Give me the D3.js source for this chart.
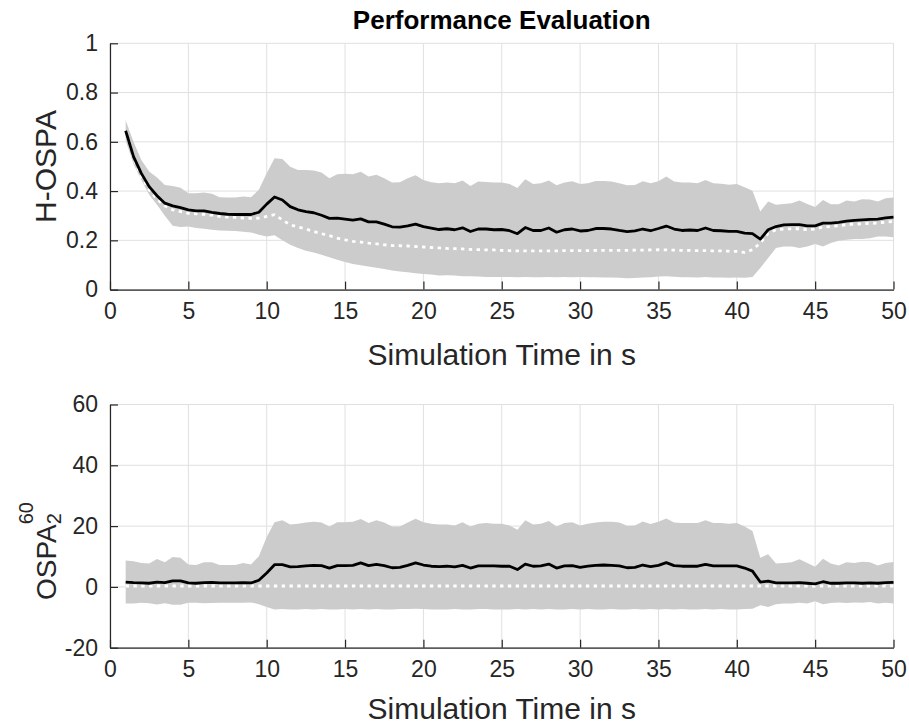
<!DOCTYPE html>
<html><head><meta charset="utf-8">
<script src="https://cdn.jsdelivr.net/npm/d3@7"></script>
<style>body{margin:0;background:#fff} text{font-family:"Liberation Sans",Arial,Helvetica,sans-serif}</style>
</head><body><svg id="chart" width="909" height="724"></svg>
<script>
// ---- data ----
const time = [1,1.5,2,2.5,3,3.5,4,4.5,5,5.5,6,6.5,7,7.5,8,8.5,9,9.5,10,10.5,11,11.5,12,12.5,13,13.5,14,14.5,15,15.5,16,16.5,17,17.5,18,18.5,19,19.5,20,20.5,21,21.5,22,22.5,23,23.5,24,24.5,25,
25.5,26,26.5,27,27.5,28,28.5,29,29.5,30,30.5,31,31.5,32,32.5,33,33.5,34,34.5,35,35.5,36,36.5,37,37.5,38,38.5,39,39.5,40,40.5,41,41.5,42,42.5,43,43.5,44,44.5,45,45.5,46,46.5,47,47.5,48,48.5,49,49.5,50];

const hospaMean = [0.645,0.54,0.472,0.418,0.381,0.351,0.34,0.333,0.324,0.32,0.32,0.314,0.309,0.306,0.305,0.305,0.305,0.314,0.347,0.376,0.364,0.337,0.324,0.317,0.312,0.302,0.289,0.29,0.286,0.282,0.287,0.275,0.275,0.266,0.255,0.254,0.259,0.266,0.256,0.25,0.244,0.247,0.243,0.251,0.236,0.246,0.246,0.243,0.244,
0.239,0.227,0.252,0.24,0.24,0.25,0.233,0.243,0.246,0.238,0.24,0.248,0.248,0.246,0.24,0.235,0.238,0.246,0.239,0.248,0.258,0.246,0.24,0.242,0.24,0.25,0.24,0.239,0.236,0.236,0.229,0.227,0.205,0.243,0.256,0.263,0.264,0.264,0.259,0.259,0.27,0.27,0.273,0.278,0.281,0.283,0.285,0.286,0.291,0.294];

const hospaMedian = [0.645,0.533,0.459,0.405,0.367,0.34,0.324,0.317,0.31,0.308,0.305,0.302,0.297,0.294,0.293,0.29,0.289,0.29,0.297,0.304,0.283,0.263,0.254,0.246,0.236,0.227,0.219,0.209,0.202,0.196,0.193,0.189,0.186,0.182,0.179,0.178,0.177,0.175,0.173,0.171,0.169,0.167,0.166,0.165,0.163,0.162,0.161,0.161,0.159,
0.158,0.157,0.157,0.157,0.157,0.157,0.157,0.158,0.158,0.158,0.158,0.159,0.159,0.159,0.159,0.159,0.16,0.16,0.161,0.162,0.161,0.16,0.159,0.159,0.158,0.158,0.157,0.157,0.156,0.155,0.151,0.162,0.189,0.229,0.243,0.246,0.247,0.247,0.243,0.246,0.254,0.256,0.259,0.263,0.266,0.267,0.269,0.27,0.274,0.277];

const hospaUpper = [0.688,0.60,0.526,0.48,0.455,0.425,0.421,0.414,0.391,0.391,0.394,0.389,0.375,0.374,0.374,0.378,0.375,0.405,0.472,0.533,0.53,0.499,0.486,0.486,0.484,0.475,0.452,0.468,0.47,0.468,0.478,0.459,0.466,0.452,0.435,0.436,0.452,0.464,0.445,0.436,0.432,0.435,0.432,0.443,0.421,0.439,0.437,0.435,0.435,
0.429,0.412,0.448,0.429,0.432,0.443,0.424,0.435,0.44,0.429,0.432,0.441,0.441,0.439,0.432,0.424,0.425,0.44,0.432,0.44,0.459,0.439,0.435,0.435,0.432,0.445,0.432,0.43,0.426,0.429,0.416,0.401,0.317,0.358,0.344,0.348,0.351,0.362,0.348,0.335,0.364,0.347,0.347,0.362,0.358,0.367,0.366,0.358,0.371,0.374];

const hospaLower = [0.605,0.51,0.445,0.385,0.344,0.30,0.259,0.254,0.256,0.25,0.247,0.243,0.24,0.239,0.238,0.235,0.232,0.223,0.216,0.221,0.2,0.182,0.169,0.158,0.151,0.142,0.131,0.121,0.112,0.104,0.099,0.094,0.089,0.084,0.078,0.073,0.07,0.066,0.063,0.061,0.057,0.058,0.057,0.054,0.054,0.053,0.051,0.051,0.051,
0.051,0.05,0.051,0.05,0.05,0.051,0.05,0.051,0.05,0.051,0.05,0.05,0.049,0.049,0.048,0.046,0.047,0.049,0.05,0.053,0.054,0.052,0.05,0.05,0.049,0.051,0.049,0.049,0.048,0.049,0.048,0.051,0.088,0.128,0.169,0.175,0.175,0.169,0.175,0.185,0.175,0.189,0.198,0.202,0.205,0.205,0.208,0.216,0.216,0.213];

const ospaMean = [1.6,1.4,1.3,1.2,1.6,1.4,2.0,2.0,1.3,1.2,1.4,1.5,1.3,1.3,1.3,1.4,1.3,2.2,4.6,7.3,7.3,6.6,6.7,6.9,7.1,7.0,6.2,7.0,7.0,7.1,7.9,7.0,7.4,7.0,6.3,6.4,7.1,7.9,7.2,6.8,6.7,6.8,6.6,7.1,6.2,6.9,6.9,6.9,6.8,
6.8,5.7,7.5,6.8,6.9,7.5,6.2,6.9,7.0,6.4,6.8,7.1,7.2,7.1,6.9,6.3,6.4,7.2,6.7,7.1,8.0,7.0,6.8,6.8,6.8,7.4,6.9,6.9,6.9,6.9,6.2,5.2,1.6,1.9,1.3,1.3,1.3,1.4,1.2,1.0,1.7,1.2,1.2,1.3,1.3,1.2,1.3,1.2,1.4,1.5];

const ospaMedian = [0.3,0.3,0.3,0.3,0.3,0.3,0.3,0.3,0.3,0.3,0.3,0.3,0.3,0.3,0.3,0.3,0.3,0.3,0.3,0.3,0.3,0.3,0.3,0.3,0.3,0.3,0.3,0.3,0.3,0.3,0.3,0.3,0.3,0.3,0.3,0.3,0.3,0.3,0.3,0.3,0.3,0.3,0.3,0.3,0.3,0.3,0.3,0.3,0.3,
0.3,0.3,0.3,0.3,0.3,0.3,0.3,0.3,0.3,0.3,0.3,0.3,0.3,0.3,0.3,0.3,0.3,0.3,0.3,0.3,0.3,0.3,0.3,0.3,0.3,0.3,0.3,0.3,0.3,0.3,0.3,0.3,0.3,0.3,0.3,0.3,0.3,0.3,0.3,0.3,0.3,0.3,0.3,0.3,0.3,0.3,0.3,0.3,0.3,0.3];

const ospaUpper = [8.7,8.4,7.9,7.7,9.2,8.1,9.8,9.6,7.4,7.2,8.1,8.1,7.2,7.2,7.2,7.9,7.4,10.1,16.4,21.3,21.9,20.5,20.8,21.2,21.4,21.2,19.9,21.3,21.3,21.4,22.3,21.0,21.9,21.2,19.9,19.9,21.2,22.4,21.3,20.8,20.5,20.5,20.2,21.3,19.9,20.8,21.0,20.8,20.8,
20.2,18.8,21.9,20.5,20.8,21.7,19.9,21.0,21.3,20.2,20.8,21.2,21.4,21.4,21.2,20.1,20.2,21.5,20.7,21.4,22.5,21.2,21.0,21.0,21.0,21.9,21.0,21.0,20.8,21.0,19.9,18.4,9.6,10.7,7.7,7.9,8.1,9.1,7.9,6.6,9.3,7.7,7.0,8.1,7.9,8.3,8.1,7.0,7.9,8.2];

const ospaLower = [-5.5,-5.5,-5.2,-5.4,-5.8,-5.4,-5.9,-5.9,-5.2,-5.2,-5.4,-5.3,-5.2,-5.2,-5.2,-5.2,-5.1,-5.7,-6.6,-7.4,-7.3,-7.4,-7.4,-7.3,-7.4,-7.3,-7.4,-7.4,-7.3,-7.4,-7.3,-7.4,-7.3,-7.4,-7.4,-7.3,-7.3,-7.2,-7.3,-7.4,-7.4,-7.4,-7.3,-7.4,-7.4,-7.3,-7.3,-7.4,-7.4,
-7.4,-7.3,-7.4,-7.3,-7.4,-7.3,-7.4,-7.4,-7.3,-7.4,-7.3,-7.4,-7.4,-7.3,-7.4,-7.4,-7.3,-7.4,-7.3,-7.4,-7.3,-7.4,-7.3,-7.4,-7.4,-7.3,-7.4,-7.3,-7.4,-7.4,-7.3,-7.2,-6.0,-6.6,-5.7,-5.5,-5.5,-5.2,-5.5,-4.7,-5.7,-5.3,-5.1,-5.3,-5.1,-5.2,-5.0,-5.5,-5.2,-5.5];

const xTicks = [0,5,10,15,20,25,30,35,40,45,50];
const xTickLabels = ["0","5","10","15","20","25","30","35","40","45","50"];
const hospaTicks = [0,0.2,0.4,0.6,0.8,1];
const hospaTickLabels = ["0","0.2","0.4","0.6","0.8","1"];
const ospaTicks = [-20,0,20,40,60];
const ospaTickLabels = ["-20","0","20","40","60"];

const titleText = "Performance Evaluation";
const xLabelText = "Simulation Time in s";

// ---- drawing ----
const svg = d3.select("#chart");
svg.append("rect").attr("width",909).attr("height",724).attr("fill","#fff");
const AX = "#262626", GRID = "#e0e0e0", BAND = "#cccccc";
const TICK_FS = 23, LABEL_FS = 30, TITLE_FS = 26;

function panel(cfg){
  const x = d3.scaleLinear().domain([0,50]).range([110,893.5]);
  const y = d3.scaleLinear().domain(cfg.domain).range([cfg.bottom, cfg.top]);
  const g = svg.append("g");
  g.append("g").selectAll("line").data(xTicks).join("line")
    .attr("x1",d=>x(d)).attr("x2",d=>x(d)).attr("y1",cfg.top).attr("y2",cfg.bottom)
    .attr("stroke",GRID).attr("stroke-width",1);
  g.append("g").selectAll("line").data(cfg.ticks).join("line")
    .attr("x1",x(0)).attr("x2",x(50)).attr("y1",d=>y(d)).attr("y2",d=>y(d))
    .attr("stroke",GRID).attr("stroke-width",1);
  const rows = time.map((t,i)=>({t, lo:cfg.lower[i], hi:cfg.upper[i], m:cfg.mean[i], md:cfg.median[i]}));
  g.append("path").datum(rows)
    .attr("d", d3.area().x(d=>x(d.t)).y0(d=>y(d.lo)).y1(d=>y(d.hi)))
    .attr("fill",BAND).attr("stroke","none");
  g.append("path").datum(rows)
    .attr("d", d3.line().x(d=>x(d.t)).y(d=>y(d.md)))
    .attr("fill","none").attr("stroke","#fff").attr("stroke-width",2.8)
    .attr("stroke-dasharray","3.4,4.4");
  g.append("path").datum(rows)
    .attr("d", d3.line().x(d=>x(d.t)).y(d=>y(d.m)))
    .attr("fill","none").attr("stroke","#000").attr("stroke-width",2.8)
    .attr("stroke-linejoin","round");
  const xa = d3.axisBottom(x).tickValues(xTicks).tickFormat((d,i)=>xTickLabels[i])
    .tickSize(-8).tickSizeOuter(0).tickPadding(13);
  const ya = d3.axisLeft(y).tickValues(cfg.ticks).tickFormat((d,i)=>cfg.tickLabels[i])
    .tickSize(-8).tickSizeOuter(0).tickPadding(12);
  const gx = g.append("g").attr("transform",`translate(0,${cfg.bottom})`).call(xa);
  const gy = g.append("g").attr("transform",`translate(${x(0)},0)`).call(ya);
  [gx,gy].forEach(a=>{
    a.select(".domain").attr("stroke",AX).attr("stroke-width",1.2);
    a.selectAll(".tick line").attr("stroke",AX).attr("stroke-width",1.2);
    a.selectAll(".tick text").attr("fill",AX).attr("font-size",TICK_FS)
      .attr("font-family",'"Liberation Sans",Arial,sans-serif');
  });
  g.append("text").attr("x",(x(0)+x(50))/2).attr("y",cfg.labelY)
    .attr("text-anchor","middle").attr("font-size",LABEL_FS).attr("fill",AX).text(xLabelText);
  return {x,y,g};
}

panel({domain:[0,1], top:43.3, bottom:289.6, labelY:365, ticks:hospaTicks, tickLabels:hospaTickLabels,
  mean:hospaMean, median:hospaMedian, upper:hospaUpper, lower:hospaLower});
panel({domain:[-20,60], top:404.5, bottom:647.7, labelY:719, ticks:ospaTicks, tickLabels:ospaTickLabels,
  mean:ospaMean, median:ospaMedian, upper:ospaUpper, lower:ospaLower});

svg.append("text").attr("x",501.7).attr("y",29).attr("text-anchor","middle")
  .attr("font-size",TITLE_FS).attr("font-weight","bold").attr("fill","#000").text(titleText);

svg.append("text").attr("transform","translate(56,166.5) rotate(-90)")
  .attr("text-anchor","middle").attr("font-size",LABEL_FS).attr("fill",AX).text("H-OSPA");

// OSPA with subscript 2 and superscript 60
const yl = svg.append("g").attr("transform","translate(56,600) rotate(-90)");
const t = yl.append("text").attr("x",0).attr("font-size",28).attr("fill",AX);
t.append("tspan").text("OSPA");
const sub = t.append("tspan").attr("font-size",20).attr("dy",5).text("2");
const subW = sub.node().getComputedTextLength();
t.append("tspan").attr("font-size",20).attr("dx",-subW).attr("dy",-28).text("60");
</script></body></html>
